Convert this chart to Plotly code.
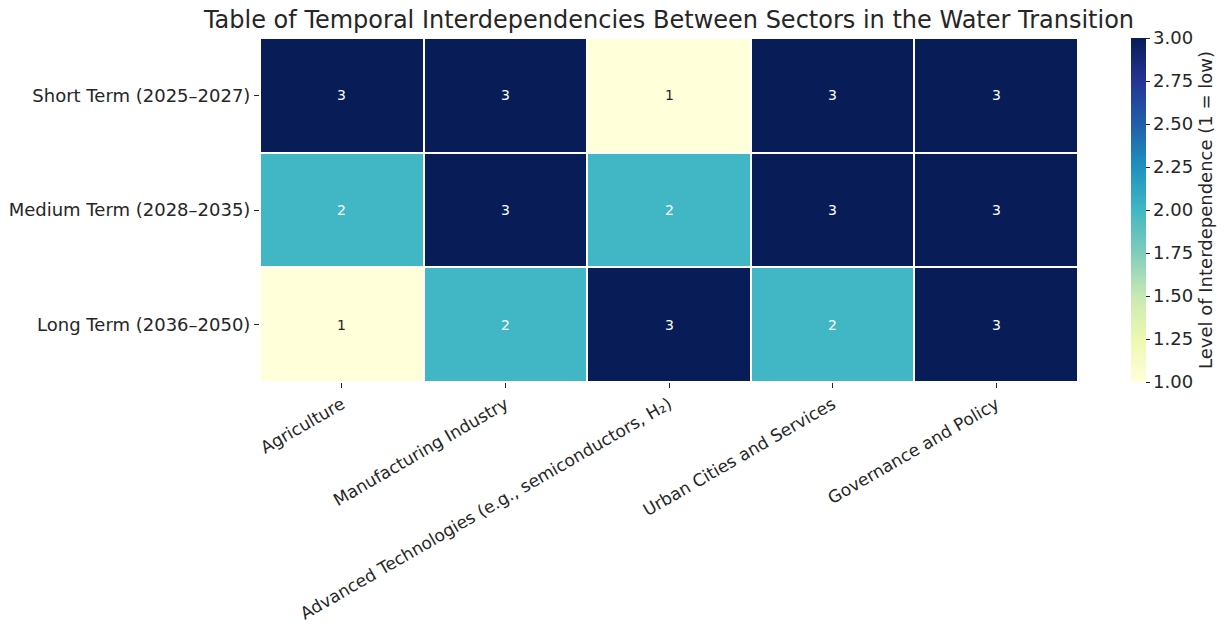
import plotly.graph_objects as go

sectors = [
    "Agriculture",
    "Manufacturing Industry",
    "Advanced Technologies (e.g., semiconductors, H₂)",
    "Urban Cities and Services",
    "Governance and Policy",
]
periods = [
    "Short Term (2025–2027)",
    "Medium Term (2028–2035)",
    "Long Term (2036–2050)",
]
short_term = [3, 3, 1, 3, 3]
medium_term = [2, 3, 2, 3, 3]
long_term = [1, 2, 3, 2, 3]
z = [short_term, medium_term, long_term]

ylgnbu = ["#ffffd9", "#edf8b1", "#c7e9b4", "#7fcdbb", "#41b6c4",
          "#1d91c0", "#225ea8", "#253494", "#081d58"]
colorscale = [[i / (len(ylgnbu) - 1), c] for i, c in enumerate(ylgnbu)]

font = "DejaVu Sans"
dark = "#262626"

fig = go.Figure(go.Heatmap(
    z=z, x=sectors, y=periods,
    colorscale=colorscale, zmin=1, zmax=3,
    xgap=2, ygap=2,
    hoverinfo="skip",
    colorbar=dict(
        title=dict(text="Level of Interdependence (1 = low)", side="right",
                   font=dict(family=font, size=18, color=dark)),
        tickvals=[1, 1.25, 1.5, 1.75, 2, 2.25, 2.5, 2.75, 3],
        tickformat=".2f",
        tickfont=dict(family=font, size=18, color=dark),
        ticks="outside", ticklen=4, tickcolor=dark,
        outlinewidth=0,
        thickness=15, len=1, lenmode="fraction", ypad=0,
        x=1.0526, xanchor="left", y=0.5, yanchor="middle",
    ),
))

for row, period in zip(z, periods):
    for val, sector in zip(row, sectors):
        fig.add_annotation(
            x=sector, y=period, text=str(val), showarrow=False,
            font=dict(family=font, size=14, color="white" if val >= 2 else dark),
        )

fig.update_layout(
    width=1225, height=627,
    margin=dict(l=260, r=147, t=38, b=245, autoexpand=False),
    plot_bgcolor="white", paper_bgcolor="white",
    title=dict(text="Table of Temporal Interdependencies Between Sectors in the Water Transition",
               x=0.5, xref="paper", xanchor="center", y=0.968, yanchor="middle",
               font=dict(family=font, size=24, color=dark)),
    xaxis=dict(tickangle=-30, tickfont=dict(family=font, size=17, color=dark),
               ticks="outside", ticklen=5, tickcolor=dark, showgrid=False),
    yaxis=dict(autorange="reversed", tickfont=dict(family=font, size=18, color=dark),
               ticks="outside", ticklen=5, tickcolor=dark, showgrid=False),
)

fig.write_html("out.html", config={"displayModeBar": False},
               post_script="document.body.style.margin='0';")
